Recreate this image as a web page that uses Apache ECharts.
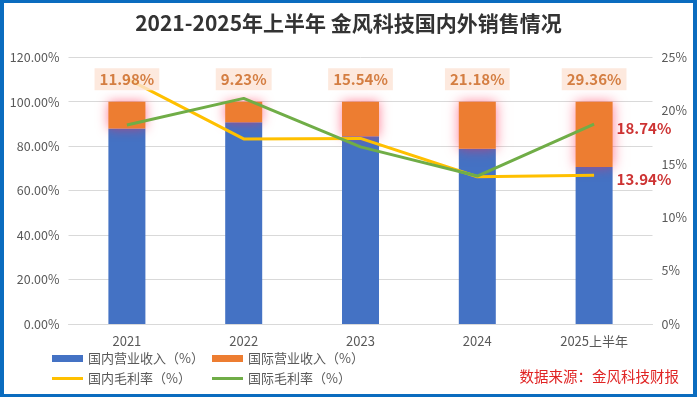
<!DOCTYPE html>
<html><head><meta charset="utf-8">
<script src="https://cdn.jsdelivr.net/npm/echarts@6/dist/echarts.min.js"></script>
<style>
html,body{margin:0;padding:0;background:#fff;}
#wrap{position:relative;width:697px;height:397px;}
#c{position:absolute;left:0;top:0;width:697px;height:397px;}
#frame{position:absolute;left:0;top:0;width:697px;height:397px;box-sizing:border-box;border:4px solid #0a6cbf;border-top-width:3px;border-bottom-width:3px;pointer-events:none;}
</style></head>
<body><div id="wrap"><div id="c"></div><div id="frame"></div></div>
<script>
const categories = ['2021','2022','2023','2024','2025上半年'];
const domesticRevenue = [88.02, 90.77, 84.46, 78.82, 70.64];
const intlRevenue = [11.98, 9.23, 15.54, 21.18, 29.36];
const domesticMargin = [23.0, 17.35, 17.4, 13.8, 13.94];
const intlMargin = [18.65, 21.15, 16.6, 13.87, 18.74];
const leftTicks = [0, 20, 40, 60, 80, 100, 120];
const rightTicks = [0, 5, 10, 15, 20, 25];

const FONT = '"Noto Sans CJK SC", "Noto Sans", sans-serif';
const totals = domesticRevenue.map((v, i) => v + intlRevenue[i]);
const lastIdx = categories.length - 1;
const onlyLast = (arr) => arr.map((v, i) => i === lastIdx ? v : null);
const LINE_ICON = 'path://M0,0H31V3H0Z';
const endLabelStyle = { show: true, position: 'right', distance: 22, offset: [0, 4],
  formatter: (p) => p.value.toFixed(2) + '%', color: '#C00000', fontWeight: 'bold', fontSize: 15, fontFamily: FONT };

const chart = echarts.init(document.getElementById('c'));
chart.setOption({
  animation: false,
  backgroundColor: '#fff',
  textStyle: { fontFamily: FONT },
  title: {
    text: '2021-2025年上半年 金风科技国内外销售情况',
    left: 'center', top: 8,
    textStyle: { fontSize: 21, fontWeight: 'bold', color: '#333', fontFamily: FONT }
  },
  graphic: [{
    type: 'text', right: 18, top: 369,
    style: { text: '数据来源：金风科技财报', fill: '#E02424', fontSize: 14.5, fontFamily: FONT }
  }],
  legend: [{
    orient: 'vertical', left: 47, top: 347, itemWidth: 31, itemHeight: 7, itemGap: 7,
    textStyle: { color: '#595959', fontSize: 13, fontFamily: FONT },
    data: [{ name: '国内营业收入（%）', icon: 'rect' }, { name: '国内毛利率（%）', icon: LINE_ICON }]
  }, {
    orient: 'vertical', left: 207, top: 347, itemWidth: 31, itemHeight: 7, itemGap: 7,
    textStyle: { color: '#595959', fontSize: 13, fontFamily: FONT },
    data: [{ name: '国际营业收入（%）', icon: 'rect' }, { name: '国际毛利率（%）', icon: LINE_ICON }]
  }],
  grid: { left: 68.5, right: 44.5, top: 57.3, bottom: 73, containLabel: false },
  xAxis: {
    type: 'category', data: categories,
    axisLine: { lineStyle: { color: '#D9D9D9' } },
    axisTick: { show: false },
    axisLabel: { color: '#595959', fontSize: 13, margin: 11, fontFamily: FONT }
  },
  yAxis: [{
    type: 'value', min: leftTicks[0], max: leftTicks[leftTicks.length - 1], interval: 20,
    axisLine: { show: false }, axisTick: { show: false },
    axisLabel: { color: '#595959', fontSize: 12.5, margin: 9, formatter: (v) => v.toFixed(2) + '%' },
    splitLine: { lineStyle: { color: '#D9D9D9' } }
  }, {
    type: 'value', min: rightTicks[0], max: rightTicks[rightTicks.length - 1], interval: 5,
    axisLine: { show: false }, axisTick: { show: false },
    axisLabel: { color: '#595959', fontSize: 12.5, margin: 9, formatter: '{value}%' },
    splitLine: { show: false }
  }],
  series: [{
    name: '国内营业收入（%）', type: 'bar', stack: 'rev', barWidth: 37,
    data: domesticRevenue, itemStyle: { color: '#4472C4' }, z: 1
  }, {
    name: '国际营业收入（%）', type: 'bar', stack: 'rev', barWidth: 37,
    data: intlRevenue,
    itemStyle: { color: '#ED7D31', shadowBlur: 12, shadowColor: 'rgba(255,40,80,0.6)' }, z: 1
  }, {
    name: '国内毛利率（%）', type: 'line', yAxisIndex: 1, symbol: 'none',
    data: domesticMargin, lineStyle: { color: '#FFC000', width: 3 }, itemStyle: { color: '#FFC000' }, z: 3
  }, {
    name: '国际毛利率（%）', type: 'line', yAxisIndex: 1, symbol: 'none',
    data: intlMargin, lineStyle: { color: '#70AD47', width: 3 }, itemStyle: { color: '#70AD47' }, z: 4
  }, {
    name: 'domEnd', type: 'scatter', yAxisIndex: 1, data: onlyLast(domesticMargin), symbolSize: 1,
    itemStyle: { color: 'rgba(0,0,0,0)' }, z: 10, silent: true, label: endLabelStyle
  }, {
    name: 'intlEnd', type: 'scatter', yAxisIndex: 1, data: onlyLast(intlMargin), symbolSize: 1,
    itemStyle: { color: 'rgba(0,0,0,0)' }, z: 10, silent: true, label: endLabelStyle
  }, {
    name: 'labels', type: 'scatter', data: totals, symbolSize: 1,
    itemStyle: { color: 'rgba(0,0,0,0)' }, z: 10, silent: true,
    label: { show: true, position: 'top', distance: 11,
      formatter: (p) => intlRevenue[p.dataIndex].toFixed(2) + '%',
      color: '#C9631A', fontWeight: 'bold', fontSize: 15, fontFamily: FONT,
      backgroundColor: '#FCE4D6', padding: [4, 5, 3, 5] }
  }]
});
</script></body></html>
